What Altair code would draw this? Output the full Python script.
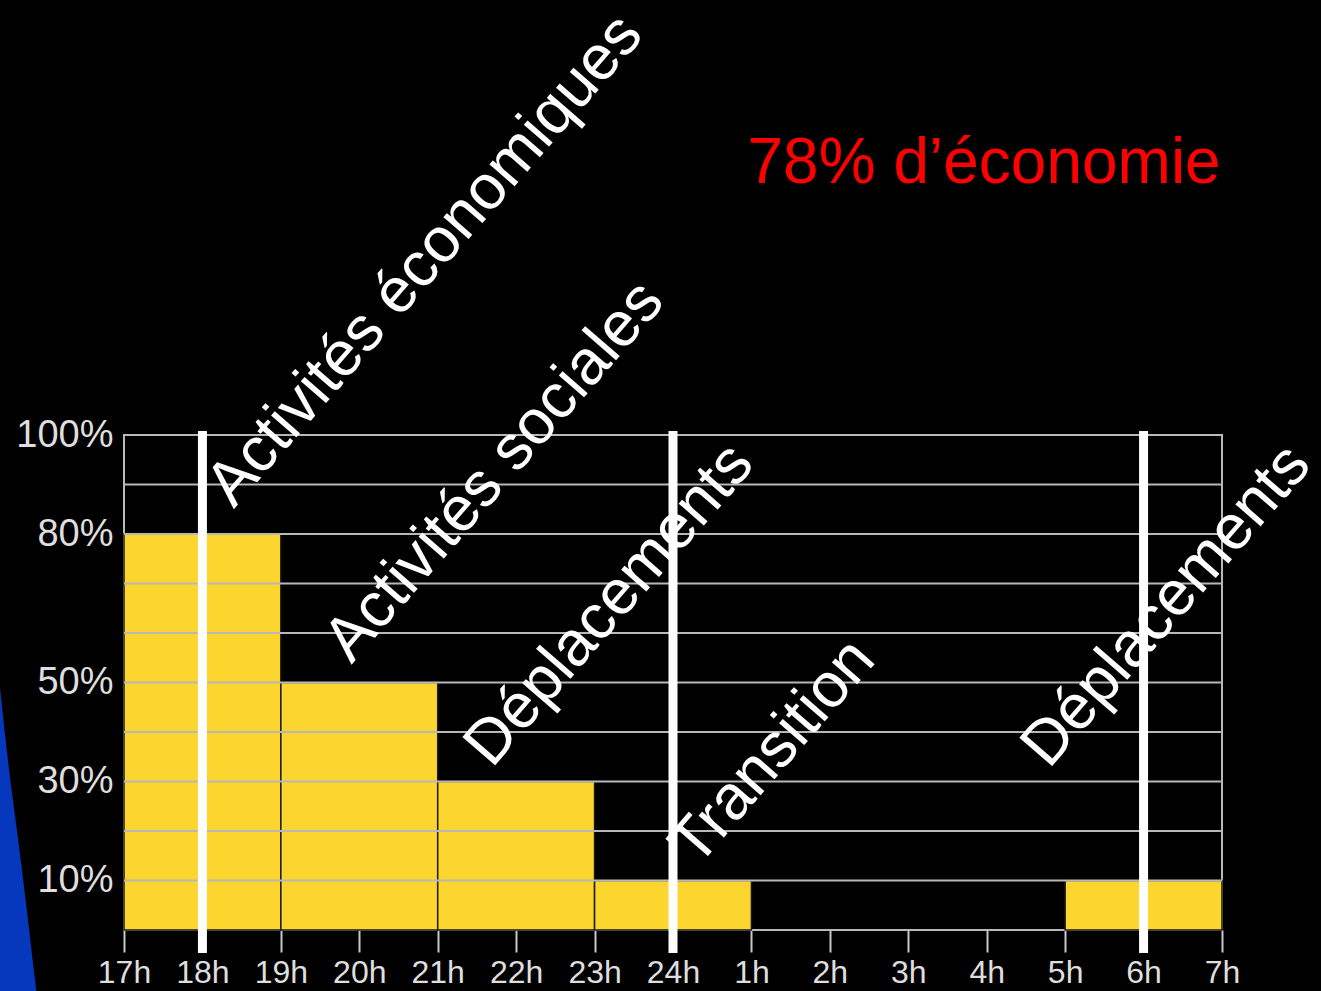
import json
import altair as alt
import pandas as pd

# ---- data ----
hour_labels = ["17h", "18h", "19h", "20h", "21h", "22h", "23h", "24h",
               "1h", "2h", "3h", "4h", "5h", "6h", "7h"]
bar_start = [0, 1, 2, 4, 6, 7, 12, 13]          # hours after 17h
bar_end = [1, 2, 4, 6, 7, 8, 13, 14]
bar_value = [80, 80, 50, 30, 10, 10, 10, 10]     # % of lighting kept
y_tick_values = [10, 30, 50, 80, 100]
grid_levels = [10, 20, 30, 40, 50, 60, 70, 80, 90, 100]
separators = [1, 7, 13]                          # 18h, 24h, 6h
phase_labels = ["Activités économiques", "Activités sociales", "Déplacements",
                "Transition", "Déplacements"]
phase_x = [1.40, 2.90, 4.69, 7.31, 11.79]
phase_y = [85.0, 53.6, 32.5, 12.5, 32.3]
headline = ["78% d’économie"]
headline_x = [7.95]
headline_y = [151]
# slide decoration (blue swoosh at left edge)
swoosh_y = [49.0, 34.0, 12.7, -12.4]
swoosh_x = [-1.581, -1.478, -1.305, -1.118]
swoosh_x2 = [-1.581, -1.581, -1.581, -1.581]

W, H = 1098, 495
xscale = alt.Scale(domain=[0, 14], nice=False, zero=False)
yscale = alt.Scale(domain=[0, 100], nice=False)

bars_df = pd.DataFrame({"start": bar_start, "end": bar_end, "value": bar_value})
grid_df = pd.DataFrame({"level": grid_levels})
sep_df = pd.DataFrame({"h": separators})
phase_df = pd.DataFrame({"label": phase_labels, "x": phase_x, "y": phase_y})
head_df = pd.DataFrame({"label": headline, "x": headline_x, "y": headline_y})
sw_df = pd.DataFrame({"y": swoosh_y, "x": swoosh_x, "x2": swoosh_x2})

label_expr = json.dumps(hour_labels) + "[datum.value]"

swoosh = alt.Chart(sw_df).mark_area(color="#0638BE", orient="horizontal",
                                    interpolate="monotone", clip=False).encode(
    y=alt.Y("y:Q", scale=yscale),
    x=alt.X("x:Q", scale=xscale),
    x2="x2:Q",
)

bars = alt.Chart(bars_df).mark_rect(color="#FCD62E", stroke="#1a1a1a",
                                    strokeWidth=1.5).encode(
    x=alt.X("start:Q", scale=xscale,
            axis=alt.Axis(values=list(range(15)), labelExpr=label_expr, title=None,
                          grid=False, domain=False, ticks=True, tickSize=22,
                          tickWidth=2, tickColor="#c8c8c8", labelColor="#dedede",
                          labelFont="Liberation Sans", labelFontSize=32,
                          labelPadding=5, labelFlush=False, labelOverlap=False)),
    x2="end:Q",
    y=alt.Y("value:Q", scale=yscale,
            axis=alt.Axis(values=y_tick_values, labelExpr="datum.value + '%'",
                          title=None, grid=False, domain=False, ticks=False,
                          labelColor="#dedede", labelFont="Liberation Sans",
                          labelFontSize=38, labelPadding=11, labelBaseline="middle")),
    y2=alt.datum(0),
)

grid = alt.Chart(grid_df).mark_rule(color="#b8b8b8", strokeWidth=2).encode(
    y=alt.Y("level:Q", scale=yscale),
    x=alt.value(0),
    x2=alt.value(W),
)

seps = alt.Chart(sep_df).mark_rule(color="#ffffff", strokeWidth=9, clip=False).encode(
    x=alt.X("h:Q", scale=xscale),
    y=alt.value(-4),
    y2=alt.value(518),
)

phases = alt.Chart(phase_df).mark_text(
    angle=311, align="left", baseline="alphabetic", color="#ffffff",
    font="Liberation Sans", fontSize=63, clip=False
).encode(
    x=alt.X("x:Q", scale=xscale),
    y=alt.Y("y:Q", scale=yscale),
    text="label:N",
)

head = alt.Chart(head_df).mark_text(
    align="left", baseline="alphabetic", color="#ff0000",
    font="Liberation Sans", fontSize=64, clip=False
).encode(
    x=alt.X("x:Q", scale=xscale),
    y=alt.Y("y:Q", scale=yscale),
    text="label:N",
)

chart = alt.layer(swoosh, bars, grid, seps, phases, head).properties(
    width=W, height=H,
    autosize=alt.AutoSizeParams(type="none"),
    padding={"left": 124, "top": 435, "right": 99, "bottom": 61},
    background="#000000",
).configure_view(stroke="#b8b8b8", strokeWidth=2)

chart.save("out.html", embed_options={"renderer": "svg", "actions": False})
